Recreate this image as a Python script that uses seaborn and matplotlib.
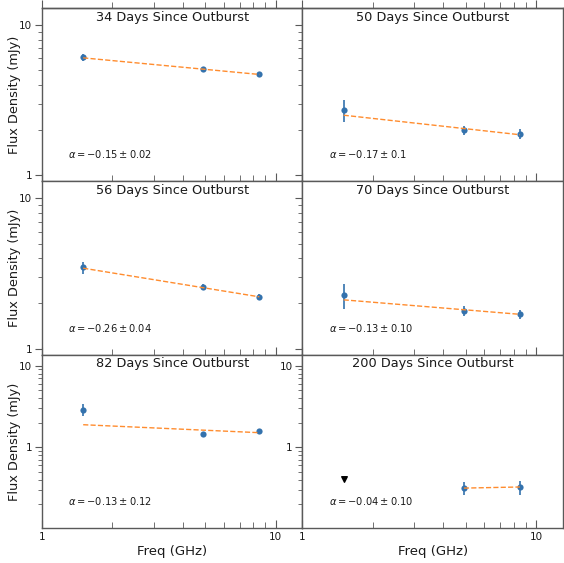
import matplotlib
matplotlib.use("Agg")
import matplotlib.pyplot as plt
import numpy as np
import pandas as pd
import seaborn as sns
from matplotlib.ticker import LogLocator, FuncFormatter, NullFormatter

# ---------------- data ----------------
days = [34, 50, 56, 70, 82, 200]
freq_ghz = [1.5, 4.9, 8.5]

flux_34 = [6.10, 5.09, 4.71]
err_34 = [0.30, 0.20, 0.18]
flux_50 = [2.71, 2.00, 1.88]
err_50 = [0.45, 0.14, 0.14]
flux_56 = [3.48, 2.56, 2.22]
err_56 = [0.32, 0.12, 0.10]
flux_70 = [2.26, 1.78, 1.69]
err_70 = [0.44, 0.14, 0.11]
flux_82 = [2.90, 1.47, 1.60]
err_82 = [0.45, 0.04, 0.04]
flux_200 = [np.nan, 0.319, 0.325]
err_200 = [np.nan, 0.055, 0.062]
uplim_200_freq = [1.5]
uplim_200_flux = [0.404]

fit_freq = [1.5, 8.5]
fit_freq_200 = [4.9, 8.5]
fit_34 = [6.05, 4.69]
fit_50 = [2.51, 1.86]
fit_56 = [3.43, 2.21]
fit_70 = [2.11, 1.69]
fit_82 = [1.89, 1.51]
fit_200 = [0.317, 0.327]

alpha_labels = [r"$\alpha = -0.15 \pm 0.02$", r"$\alpha = -0.17 \pm 0.1$",
                r"$\alpha = -0.26 \pm 0.04$", r"$\alpha = -0.13 \pm 0.10$",
                r"$\alpha = -0.13 \pm 0.12$", r"$\alpha = -0.04 \pm 0.10$"]

fluxes = [flux_34, flux_50, flux_56, flux_70, flux_82, flux_200]
errs = [err_34, err_50, err_56, err_70, err_82, err_200]
fits = [fit_34, fit_50, fit_56, fit_70, fit_82, fit_200]
fit_freqs = [fit_freq, fit_freq, fit_freq, fit_freq, fit_freq, fit_freq_200]

# ---------------- style ----------------
sns.set_theme(style="ticks")
plt.rcParams["font.family"] = ["DejaVu Sans"]
plt.rcParams["axes.edgecolor"] = "0.35"
plt.rcParams["axes.linewidth"] = 1.0
plt.rcParams["xtick.color"] = "0.35"
plt.rcParams["ytick.color"] = "0.35"
plt.rcParams["xtick.labelcolor"] = "0.1"
plt.rcParams["ytick.labelcolor"] = "0.1"

blue = "#3472ad"
orange = "#ff8c2e"

fig = plt.figure(figsize=(5.64, 5.63), dpi=100)
gs = fig.add_gridspec(3, 2, left=42 / 564, right=563 / 564,
                      top=1 - 8 / 563, bottom=1 - 528 / 563,
                      hspace=0, wspace=0)

fmt = FuncFormatter(lambda v, p: f"{v:g}")

for i in range(6):
    r, c = divmod(i, 2)
    ax = fig.add_subplot(gs[r, c])
    df = pd.DataFrame({"freq": freq_ghz, "flux": fluxes[i], "err": errs[i]}).dropna()
    fdf = pd.DataFrame({"freq": fit_freqs[i], "flux": fits[i]})

    ax.set_xscale("log")
    ax.set_yscale("log")

    ax.errorbar(df["freq"], df["flux"], yerr=df["err"], fmt="none",
                ecolor=blue, elinewidth=1.2, capsize=0, zorder=2)
    sns.scatterplot(data=df, x="freq", y="flux", ax=ax, color=blue, s=20,
                    edgecolor=blue, linewidth=0, zorder=3)
    sns.lineplot(data=fdf, x="freq", y="flux", ax=ax, color=orange,
                 linestyle="--", linewidth=1.0, zorder=4)
    if days[i] == 200:
        ax.scatter(uplim_200_freq, uplim_200_flux, marker="v", color="black",
                   s=16, zorder=3)

    ax.set_xlim(1, 13)
    if r < 2:
        ax.set_ylim(0.91, 13)
    else:
        ax.set_ylim(0.103, 13.6)

    ax.text(0.5, 0.948, f"{days[i]} Days Since Outburst", transform=ax.transAxes,
            ha="center", va="center", fontsize=9.3, color="0.1")
    ax.text(0.10, 0.155, alpha_labels[i], transform=ax.transAxes,
            ha="left", va="center", fontsize=7.1, color="0.1")

    ax.xaxis.set_major_locator(LogLocator(base=10))
    ax.xaxis.set_minor_locator(LogLocator(base=10, subs=np.arange(2, 10)))
    ax.yaxis.set_major_locator(LogLocator(base=10))
    ax.yaxis.set_minor_locator(LogLocator(base=10, subs=np.arange(2, 10)))
    ax.xaxis.set_major_formatter(fmt)
    ax.yaxis.set_major_formatter(fmt)
    ax.xaxis.set_minor_formatter(NullFormatter())
    ax.yaxis.set_minor_formatter(NullFormatter())

    ax.tick_params(axis="x", which="both", direction="in", labelsize=7.5, pad=3)
    ax.tick_params(axis="x", which="major", length=6, width=0.8)
    ax.tick_params(axis="x", which="minor", length=4, width=0.6)
    ax.tick_params(axis="y", which="both", direction="out", labelsize=7.5, pad=2)
    ax.tick_params(axis="y", which="major", length=5, width=0.8)
    ax.tick_params(axis="y", which="minor", length=3, width=0.6)

    if r < 2:
        ax.tick_params(axis="x", labelbottom=False)
    if c == 1 and r < 2:
        ax.tick_params(axis="y", labelleft=False)

    if r == 0:
        sec = ax.secondary_xaxis("top")
        sec.xaxis.set_major_locator(LogLocator(base=10))
        sec.xaxis.set_minor_locator(LogLocator(base=10, subs=np.arange(2, 10)))
        sec.xaxis.set_major_formatter(NullFormatter())
        sec.xaxis.set_minor_formatter(NullFormatter())
        sec.tick_params(axis="x", which="both", direction="out")
        sec.tick_params(axis="x", which="major", length=6, width=0.8)
        sec.tick_params(axis="x", which="minor", length=4, width=0.6)

    if c == 0:
        ax.set_ylabel("Flux Density (mJy)", fontsize=9.3, color="0.1", labelpad=0)
        ax.yaxis.set_label_coords(-0.082, 0.5)
    else:
        ax.set_ylabel("")
    if r == 2:
        ax.set_xlabel("Freq (GHz)", fontsize=9.5, color="0.1", labelpad=2)
    else:
        ax.set_xlabel("")
    leg = ax.get_legend()
    if leg is not None:
        leg.remove()

fig.savefig("out.png", dpi=100)
